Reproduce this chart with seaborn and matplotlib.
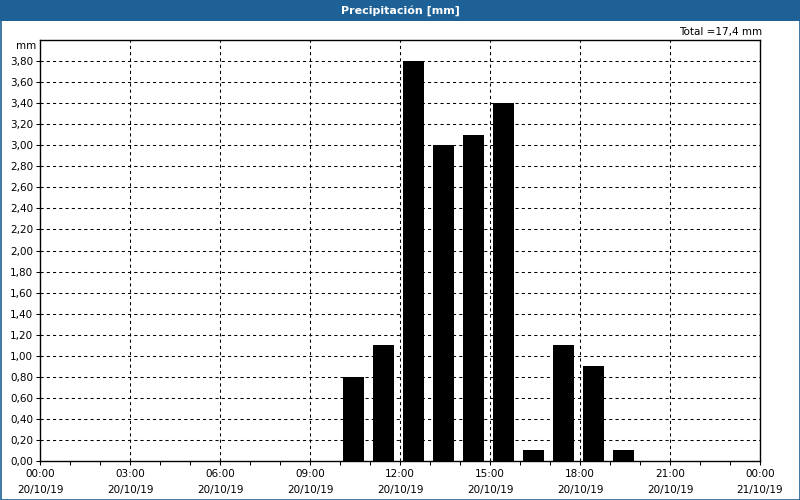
import matplotlib
matplotlib.use("Agg")
import matplotlib.pyplot as plt
import seaborn as sns
import pandas as pd
import numpy as np
from matplotlib.patches import Rectangle
from matplotlib.ticker import MultipleLocator, FuncFormatter

# Data
hours = [10, 11, 12, 13, 14, 15, 16, 17, 18, 19]
precip = [0.8, 1.1, 3.8, 3.0, 3.1, 3.4, 0.1, 1.1, 0.9, 0.1]
tick_hours = [0, 3, 6, 9, 12, 15, 18, 21, 24]
tick_labels = ["00:00\n20/10/19", "03:00\n20/10/19", "06:00\n20/10/19", "09:00\n20/10/19",
               "12:00\n20/10/19", "15:00\n20/10/19", "18:00\n20/10/19", "21:00\n20/10/19",
               "00:00\n21/10/19"]
title = "Precipitación [mm]"
total_text = "Total =17,4 mm"

sns.set_style("white")
plt.rcParams['font.family'] = ['DejaVu Sans']
plt.rcParams['text.color'] = 'black'
plt.rcParams['xtick.color'] = 'black'
plt.rcParams['ytick.color'] = 'black'

fig = plt.figure(figsize=(8, 5), dpi=100)
fig.patch.set_facecolor("white")

ax = fig.add_axes([40/800, 1 - 461/500, 720/800, 421/500])

df = pd.DataFrame({"hour": [h + 0.45 for h in hours], "mm": precip})
sns.barplot(data=df, x="hour", y="mm", native_scale=True, width=0.7,
            color="black", saturation=1, edgecolor="black", linewidth=0, ax=ax)

ax.set_xlim(0, 24)
ax.set_ylim(0, 4.0)
ax.set_xlabel("")
ax.set_ylabel("")

# grid lines
for h in tick_hours[1:-1]:
    ax.axvline(h, color="black", lw=0.75, ls=(0, (3, 3)), zorder=0.5)
for yv in np.arange(0.2, 3.81, 0.2):
    ax.axhline(yv, color="black", lw=0.75, ls=(0, (3, 3)), zorder=0.5)
for b in ax.patches:
    b.set_zorder(2)

ax.set_xticks(tick_hours)
ax.set_xticklabels(tick_labels, fontsize=7.5, linespacing=1.75, color="black")
ax.xaxis.set_minor_locator(MultipleLocator(1))
ax.set_yticks(np.arange(0, 3.81, 0.2))
ax.yaxis.set_major_formatter(FuncFormatter(lambda v, p: f"{v:.2f}".replace(".", ",")))
ax.tick_params(axis="y", labelsize=7.5, length=3, width=0.75, direction="out", left=True, pad=2,
               colors="black")
ax.tick_params(axis="x", which="both", length=3, width=0.75, direction="out", bottom=True, pad=3,
               colors="black")
for s in ax.spines.values():
    s.set_color("black")
    s.set_linewidth(1)
ax.set_facecolor("white")

# title bar
fig.patches.append(Rectangle((0, 1 - 21/500), 1, 21/500, transform=fig.transFigure,
                             facecolor="#1E6196", edgecolor="none", zorder=0))
fig.patches.append(Rectangle((0.5/800, 0.5/500), 799/800, 499/500, transform=fig.transFigure,
                             facecolor="none", edgecolor="#1E6196", lw=1.2, zorder=5))
fig.text(0.5, 1 - 10.5/500, title, ha="center", va="center", color="white",
         fontsize=8, fontweight="bold")
fig.text(762/800, 1 - 32/500, total_text, ha="right", va="center", fontsize=7.5, color="black")
fig.text(36/800, 1 - 46/500, "mm", ha="right", va="center", fontsize=7.5, color="black")

fig.savefig("out.png", dpi=100)
